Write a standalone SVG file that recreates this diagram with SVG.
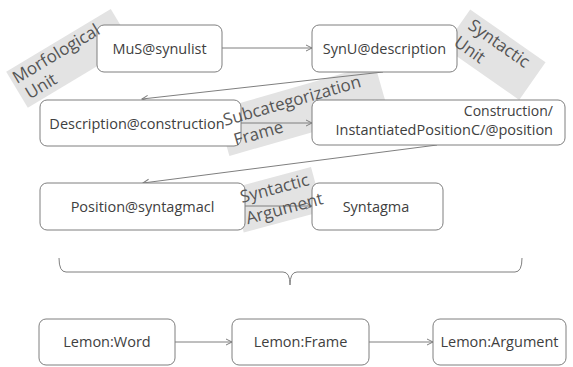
<svg xmlns="http://www.w3.org/2000/svg" width="573" height="367" viewBox="0 0 573 367">
<style>
.box{fill:#fff;stroke:#7f7f7f;stroke-width:1}
.t{font-family:"Open Sans","Noto Sans",sans-serif;font-size:14.5px;fill:#404040;text-anchor:middle}
.lb{fill:#e3e3e3}
.lt{font-family:"Open Sans","Noto Sans",sans-serif;font-size:17px;fill:#555555}
.c{fill:none;stroke:#7f7f7f;stroke-width:1}
</style>
<defs>
<marker id="ah" markerWidth="8" markerHeight="8" refX="7" refY="4" orient="auto" markerUnits="userSpaceOnUse">
<path d="M1,1 L7,4 L1,7" fill="none" stroke="#7f7f7f" stroke-width="1"/>
</marker>
</defs>
<rect width="573" height="367" fill="#fff"/>
<g id="label-bgs">
<rect class="lb" transform="translate(17,84) rotate(-31)" x="-3" y="-16" width="122" height="42"/>
<rect class="lb" transform="translate(467,28) rotate(35)" x="-8" y="-17" width="92" height="46"/>
<rect class="lb" transform="translate(225,126) rotate(-16)" x="-4" y="-18" width="165" height="48"/>
<rect class="lb" transform="translate(242,203) rotate(-15)" x="-6" y="-17" width="82" height="46"/>
</g>
<g id="connectors">
<line class="c" x1="222" y1="48" x2="312" y2="48" marker-end="url(#ah)"/>
<line class="c" x1="383" y1="72" x2="142" y2="99" marker-end="url(#ah)"/>
<line class="c" x1="241" y1="123" x2="312" y2="123" marker-end="url(#ah)"/>
<line class="c" x1="437" y1="145" x2="143" y2="183" marker-end="url(#ah)"/>
<line class="c" x1="245" y1="206" x2="312" y2="206" marker-end="url(#ah)"/>
<line class="c" x1="175" y1="342" x2="232" y2="342" marker-end="url(#ah)"/>
<line class="c" x1="369" y1="342" x2="433" y2="342" marker-end="url(#ah)"/>
<path class="c" d="M59,258 Q59,272 66,272 L283,272 Q290,272 290,285 Q290,272 297,272 L515,272 Q522,272 522,258"/>
</g>
<g id="n-mus"><rect class="box" x="97" y="25" width="125" height="47" rx="7"/><text class="t" x="159.5" y="54">MuS@synulist</text></g>
<g id="n-synu"><rect class="box" x="312" y="25" width="145" height="47" rx="7"/><text class="t" x="384.5" y="54">SynU@description</text></g>
<g id="n-desc"><rect class="box" x="40" y="100" width="201" height="46" rx="7"/><text class="t" x="137" y="129">Description@construction</text></g>
<g id="n-constr"><rect class="box" x="312" y="100" width="253" height="45" rx="7"/><text class="t" style="text-anchor:end;font-size:14px" x="553" y="115.5">Construction/</text><text class="t" style="text-anchor:end" x="553" y="134.5">InstantiatedPositionC/@position</text></g>
<g id="n-pos"><rect class="box" x="40" y="183" width="205" height="47" rx="7"/><text class="t" x="142.5" y="212">Position@syntagmacl</text></g>
<g id="n-syntagma"><rect class="box" x="312" y="183" width="131" height="47" rx="7"/><text class="t" x="376" y="212">Syntagma</text></g>
<g id="n-word"><rect class="box" x="39" y="319" width="136" height="46" rx="7"/><text class="t" x="107" y="347">Lemon:Word</text></g>
<g id="n-frame"><rect class="box" x="232" y="319" width="137" height="46" rx="7"/><text class="t" x="300.5" y="347">Lemon:Frame</text></g>
<g id="n-arg"><rect class="box" x="433" y="319" width="133" height="46" rx="7"/><text class="t" x="499.5" y="347">Lemon:Argument</text></g>
<g id="labels">
<g transform="translate(17,84) rotate(-31)"><text class="lt" x="0" y="0">Morfological</text><text class="lt" x="3" y="20">Unit</text></g>
<g transform="translate(467,28) rotate(35)"><text class="lt" x="0" y="0">Syntactic</text><text class="lt" x="-2" y="22">Unit</text></g>
<g transform="translate(225,126) rotate(-16)"><text class="lt" x="0" y="0">Subcategorization</text><text class="lt" x="5" y="22">Frame</text></g>
<g transform="translate(242,203) rotate(-15)"><text class="lt" x="0" y="0">Syntactic</text><text class="lt" x="0" y="22">Argument</text></g>
</g>
</svg>
